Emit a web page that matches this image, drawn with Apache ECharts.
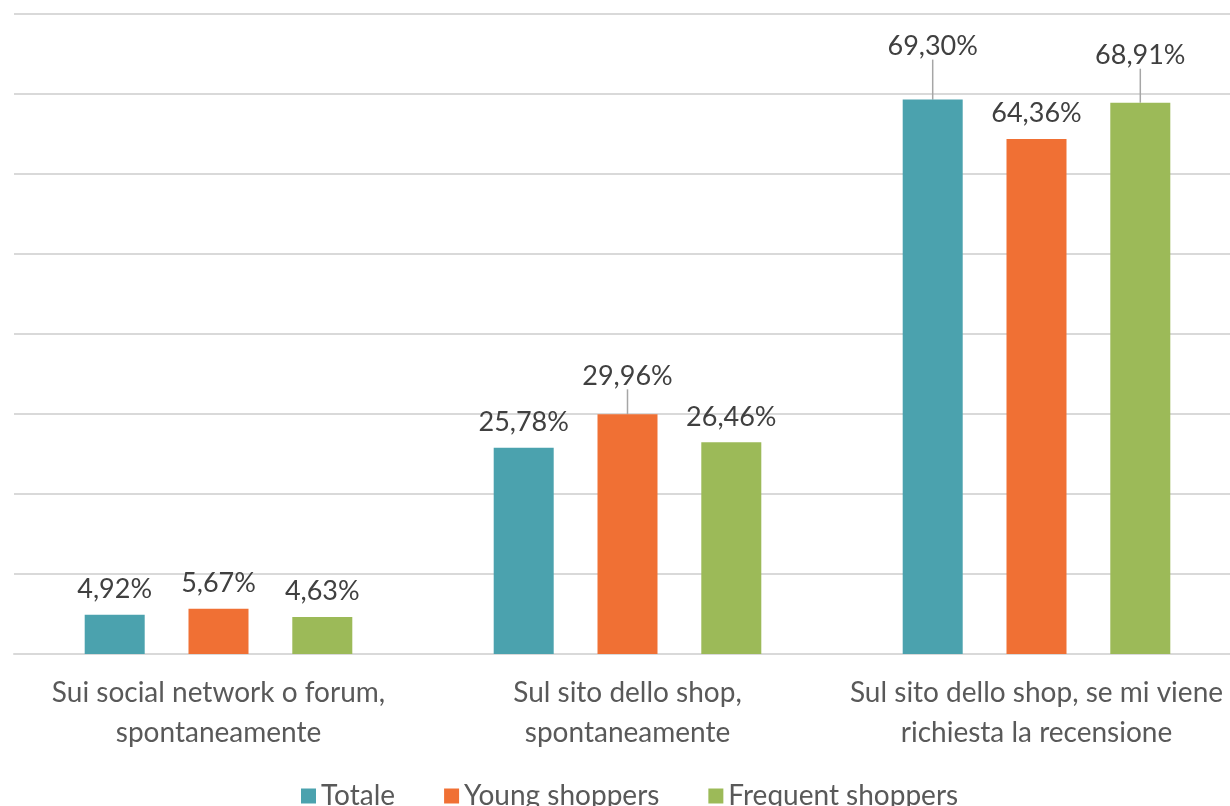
<!DOCTYPE html>
<html>
<head>
<meta charset="utf-8">
<script src="https://cdn.jsdelivr.net/npm/echarts@6/dist/echarts.min.js"></script>
<style>
  html, body { margin: 0; padding: 0; background: #fff; overflow: hidden; }
  /* plot area runs a little past the right edge of the window, as in the source */
  #chart { width: 1242px; height: 806px; }
</style>
</head>
<body>
<div id="chart"></div>
<script>
// categories and series values (percent)
const categories = [
  'Sui social network o forum,\nspontaneamente',
  'Sul sito dello shop,\nspontaneamente',
  'Sul sito dello shop, se mi viene\nrichiesta la recensione'
];
const totale = [4.92, 25.78, 69.30];
const young = [5.67, 29.96, 64.36];
const frequent = [4.63, 26.46, 68.91];

// extra lift for labels that Excel moved up with a leader line
const labelLift = [[0, 0, 28], [0, 13, 0], [0, 0, 22]];

const colors = ['#4ba2ae', '#f07034', '#9cba58'];
const font = 'Lato, "Open Sans", sans-serif';

let chart = echarts.init(document.getElementById('chart'));

function makeSeries(name, values, si) {
  return {
    name: name,
    type: 'bar',
    data: values.map((v, i) => ({
      value: v,
      labelLine: { show: labelLift[si][i] > 0 }
    })),
    barWidth: 60,
    barGap: '73%',
    label: {
      show: true,
      position: 'top',
      distance: 12,
      color: '#404040',
      fontFamily: font,
      fontSize: 27,
      formatter: p => p.value.toFixed(2).replace('.', ',') + '%'
    },
    labelLine: {
      show: false,
      lineStyle: { color: '#a6a6a6', width: 1.5 }
    },
    labelLayout: function (params) {
      let lift = labelLift[params.seriesIndex][params.dataIndex];
      return lift ? { dy: -lift } : {};
    }
  };
}

chart.setOption({
  animation: false,
  color: colors,
  legend: {
    left: 296,
    top: 777,
    itemWidth: 15,
    itemHeight: 15,
    itemGap: 49,
    icon: 'rect',
    textStyle: { color: '#595959', fontFamily: font, fontSize: 28 },
    data: ['Totale', 'Young shoppers', 'Frequent shoppers']
  },
  grid: {
    left: 14,
    top: 14,
    right: 1,
    bottom: 152,
    containLabel: false
  },
  xAxis: {
    type: 'category',
    data: categories,
    axisLine: { lineStyle: { color: '#d9d9d9', width: 2 } },
    axisTick: { show: false },
    axisLabel: {
      color: '#595959',
      fontFamily: font,
      fontSize: 28,
      lineHeight: 40,
      margin: 19,
      interval: 0
    }
  },
  yAxis: {
    type: 'value',
    min: 0,
    max: 80,
    interval: 10,
    axisLabel: { show: false },
    axisLine: { show: false },
    axisTick: { show: false },
    splitLine: { lineStyle: { color: '#d9d9d9', width: 2 } }
  },
  series: [
    makeSeries('Totale', totale, 0),
    makeSeries('Young shoppers', young, 1),
    makeSeries('Frequent shoppers', frequent, 2)
  ]
});
</script>
</body>
</html>
